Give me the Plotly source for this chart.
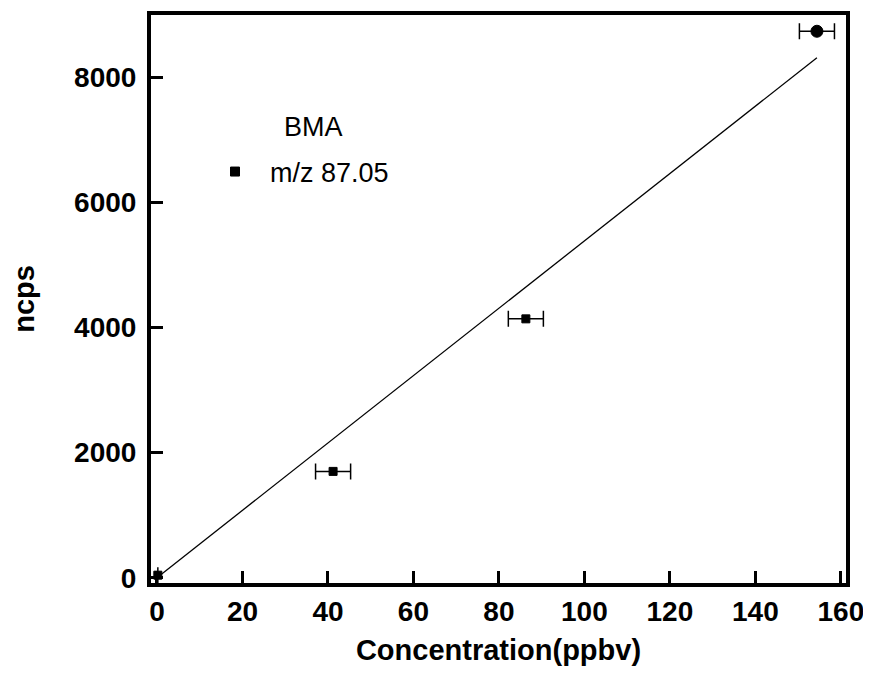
import numpy as np
import plotly.graph_objects as go

# Data
concentration = [0.2, 41.2, 86.3, 154.4]
ncps = [40, 1700, 4140, 8740]
conc_err = [0.0, 4.1, 4.1, 4.1]
series_name = "m/z 87.05"
legend_title = "BMA"
x_tick_vals = [0, 20, 40, 60, 80, 100, 120, 140, 160]
y_tick_vals = [0, 2000, 4000, 6000, 8000]

# Linear fit through origin
x_arr = np.array(concentration)
y_arr = np.array(ncps)
slope = float(np.sum(x_arr * y_arr) / np.sum(x_arr * x_arr))
fit_x = [0.0, float(x_arr.max())]
fit_y = [slope * v for v in fit_x]

FONT = "Liberation Sans, Arial, sans-serif"

fig = go.Figure()
fig.add_trace(go.Scatter(
    x=fit_x, y=fit_y, mode="lines",
    line=dict(color="black", width=1.3),
    showlegend=False, hoverinfo="skip",
))
fig.add_trace(go.Scatter(
    x=concentration, y=ncps, mode="markers",
    name="  " + series_name,
    marker=dict(symbol=["square", "square", "square", "circle"],
                size=[8, 8, 8, 12], color="black", opacity=1,
                line=dict(color="black", width=1)),
    error_x=dict(type="data", array=conc_err, visible=True,
                 color="black", thickness=1.5, width=8),
))

axis_common = dict(
    showline=True, linecolor="black", linewidth=4, mirror=True,
    ticks="inside", ticklen=12, tickwidth=3, tickcolor="black",
    showgrid=False, zeroline=False, automargin=False,
    tickfont=dict(family=FONT, size=28, color="black", weight="bold"),
)

fig.update_xaxes(
    range=[-1.4, 161.2], tickvals=x_tick_vals, ticklabelstandoff=0,
    title=dict(text="Concentration(ppbv)", standoff=15,
               font=dict(family=FONT, size=29, color="black", weight="bold")),
    **axis_common,
)
fig.update_yaxes(
    range=[-85, 9000], tickvals=y_tick_vals, ticklabelstandoff=5,
    title=dict(text="ncps", standoff=43,
               font=dict(family=FONT, size=29, color="black", weight="bold")),
    **axis_common,
)

fig.add_annotation(
    text=legend_title, xref="paper", yref="paper",
    x=(313 - 151) / 695, y=(583 - 127) / 568,
    xanchor="center", yanchor="middle", showarrow=False,
    font=dict(family=FONT, size=27, color="black"),
)

fig.update_layout(
    width=871, height=675,
    margin=dict(l=143, r=33, t=7, b=100),
    plot_bgcolor="white", paper_bgcolor="white",
    legend=dict(
        x=(215 - 151) / 695, y=(583 - 172) / 568, xanchor="left", yanchor="middle",
        bgcolor="rgba(0,0,0,0)",
        font=dict(family=FONT, size=27, color="black"),
    ),
)

fig.write_html("out.html")
